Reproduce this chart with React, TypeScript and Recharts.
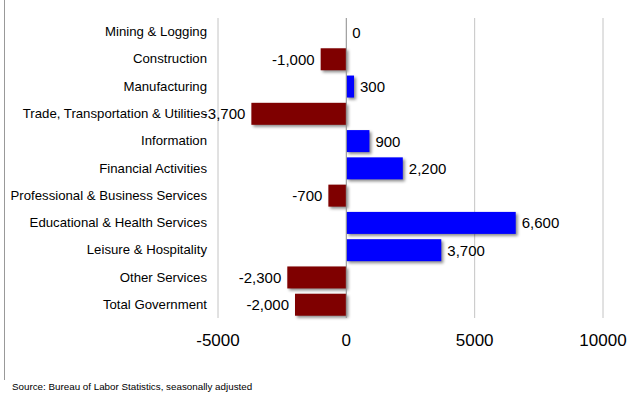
import { BarChart, Bar, XAxis, YAxis, CartesianGrid, ReferenceLine, Cell, LabelList } from 'recharts';

// Employment change by industry
const categories = [
    'Mining & Logging',
    'Construction',
    'Manufacturing',
    'Trade, Transportation & Utilities',
    'Information',
    'Financial Activities',
    'Professional & Business Services',
    'Educational & Health Services',
    'Leisure & Hospitality',
    'Other Services',
    'Total Government',
];

const changes = [0, -1000, 300, -3700, 900, 2200, -700, 6600, 3700, -2300, -2000];

const xTicks = [-5000, 0, 5000, 10000];

const POS_COLOR = '#0000ff';
const NEG_COLOR = '#7f0000';

const data = categories.map((name, i) => ({ name, value: changes[i] }));

const fmt = (v: number) => v.toLocaleString('en-US');

function ValueLabel(props: any) {
    const { x, y, width, height, value } = props;
    const left = Math.min(x, x + width);
    const right = Math.max(x, x + width);
    const neg = value < 0;
    return (
        <text
            x={neg ? left - 6 : right + 6}
            y={y + height / 2}
            textAnchor={neg ? 'end' : 'start'}
            dominantBaseline="central"
            fontSize={15}
            fontFamily="Liberation Sans, Arial, sans-serif"
            fill="#000"
        >
            {fmt(value)}
        </text>
    );
}

// single-line category label, no wrapping
function CategoryTick(props: any) {
    const { x, y, payload } = props;
    return (
        <text
            x={x + 1}
            y={y}
            textAnchor="end"
            dominantBaseline="central"
            fontSize={13.2}
            fontFamily="Liberation Sans, Arial, sans-serif"
            fill="#000"
        >
            {payload.value}
        </text>
    );
}

function ShadowBar(props: any) {
    const { x, y, width, height, fill } = props;
    const left = Math.min(x, x + width);
    const w = Math.abs(width);
    return (
        <rect
            x={left}
            y={y}
            width={w}
            height={height}
            fill={fill}
            style={{ filter: 'drop-shadow(2px 2px 1.5px rgba(0,0,0,0.45))' }}
        />
    );
}

export default function App() {
    return (
        <div
            style={{
                position: 'absolute',
                left: 0,
                top: 0,
                width: 639,
                height: 394,
                background: '#fff',
                fontFamily: 'Liberation Sans, Arial, sans-serif',
            }}
        >
            {/* frame edge on the left */}
            <div style={{ position: 'absolute', left: 4, top: 0, width: 1, height: 380, background: '#999' }} />

            <BarChart
                width={639}
                height={360}
                data={data}
                layout="vertical"
                margin={{ top: 18, right: 36, left: 8, bottom: 12 }}
                barSize={22}
            >
                <CartesianGrid horizontal={false} stroke="#c4c4c4" />
                <XAxis
                    type="number"
                    domain={[-5000, 10000]}
                    ticks={xTicks}
                    axisLine={false}
                    tickLine={false}
                    tickSize={0}
                    tickMargin={16}
                    height={30}
                    interval={0}
                    tick={{ fill: '#000', fontSize: 17 }}
                />
                <YAxis
                    type="category"
                    dataKey="name"
                    width={210}
                    axisLine={false}
                    tickLine={false}
                    tickSize={0}
                    tickMargin={12}
                    interval={0}
                    tick={CategoryTick}
                />
                <ReferenceLine x={0} stroke="#9a9a9a" strokeWidth={1} />
                <Bar dataKey="value" isAnimationActive={false} shape={ShadowBar}>
                    {data.map((d, i) => (
                        <Cell key={i} fill={d.value < 0 ? NEG_COLOR : POS_COLOR} />
                    ))}
                    <LabelList dataKey="value" content={ValueLabel} />
                </Bar>
            </BarChart>

            <div
                style={{
                    position: 'absolute',
                    left: 12,
                    top: 381,
                    fontSize: 9.8,
                    color: '#000',
                    whiteSpace: 'nowrap',
                }}
            >
                Source: Bureau of Labor Statistics, seasonally adjusted
            </div>
        </div>
    );
}
